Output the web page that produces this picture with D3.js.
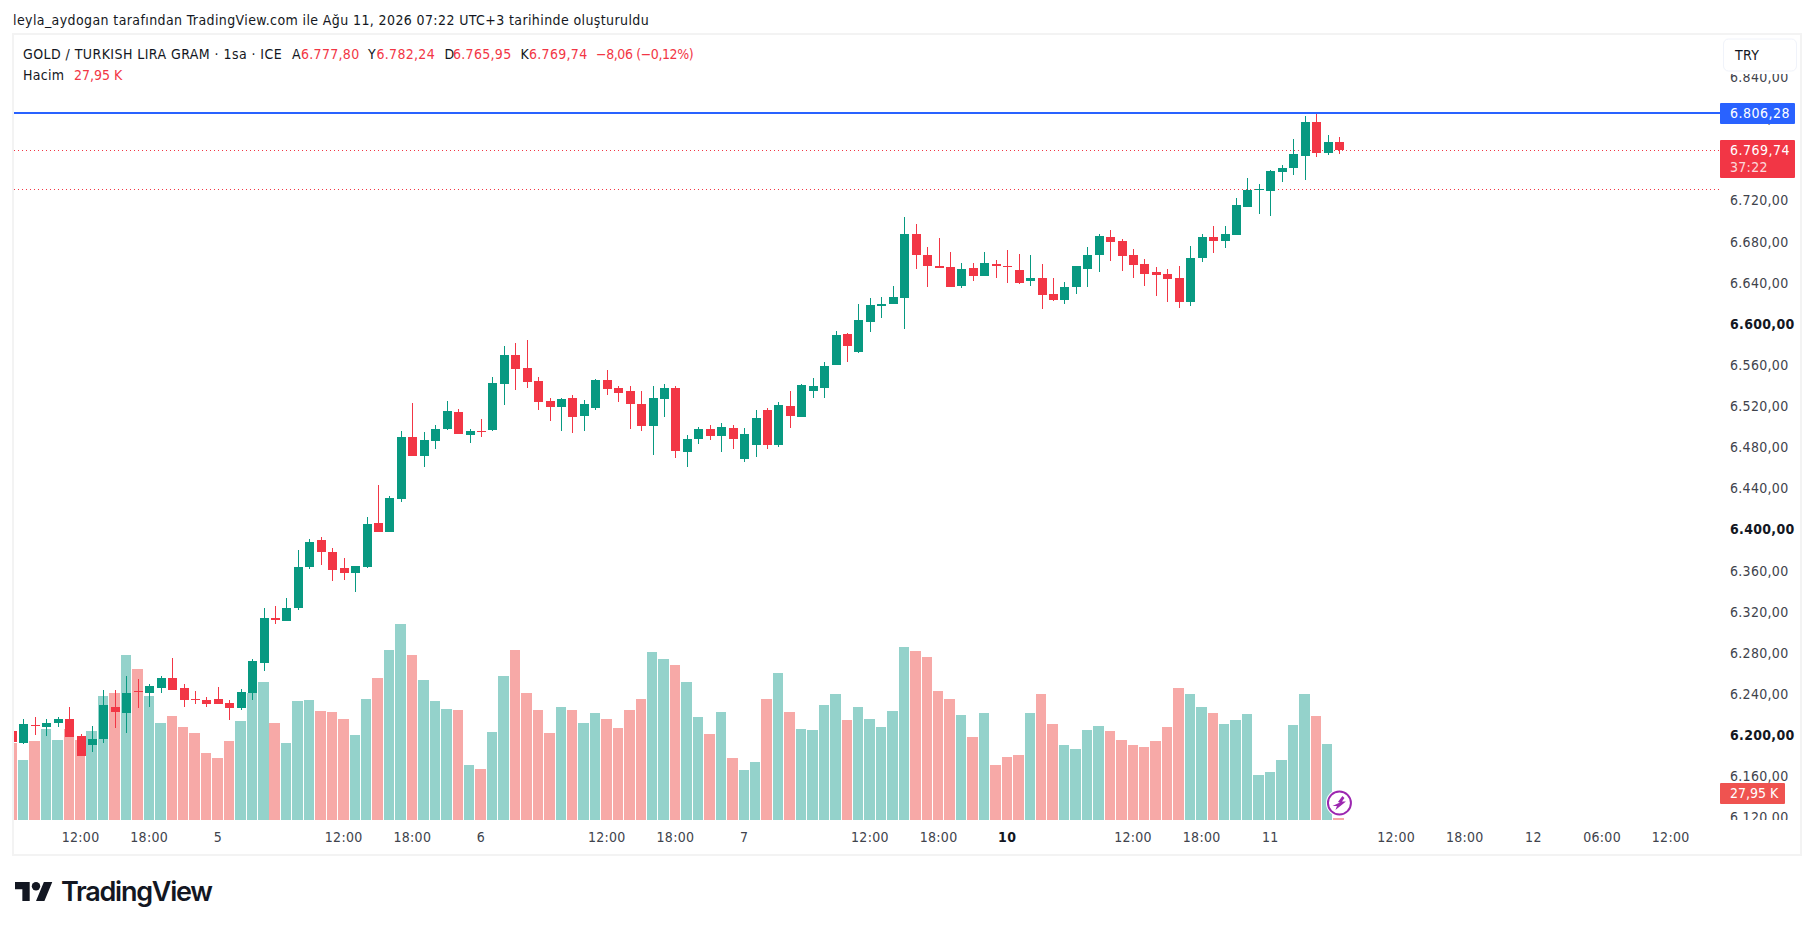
<!DOCTYPE html>
<html>
<head>
<meta charset="utf-8">
<script src="https://cdnjs.cloudflare.com/ajax/libs/d3/7.8.5/d3.min.js"></script>
<style>
html, body { margin: 0; padding: 0; background: #fff; }
svg { display: block; }
text { font-family: "DejaVu Sans Condensed", "DejaVu Sans", sans-serif; font-stretch: condensed; font-size: 14px; fill: #131722; letter-spacing: .3px; }
.tick text { font-size: 14px; }
</style>
</head>
<body>
<div id="wrapper"></div>
<script>
// candles, hourly
var opens = [6205,6193,6211,6209,6213,6217,6200,6191,6197,6228,
  6222,6244,6242,6247,6256,6247,6236,6235,6236,6232,
  6227,6242,6271,6315,6312,6325,6364,6391,6379,6363,
  6359,6364,6407,6398,6431,6491,6472,6487,6499,6515,
  6493,6497,6498,6542,6571,6558,6545,6526,6520,6529,
  6511,6519,6546,6539,6536,6523,6502,6528,6539,6476,
  6489,6499,6492,6500,6469,6483,6517,6483,6521,6510,
  6536,6539,6561,6591,6574,6603,6618,6620,6626,6688,
  6668,6657,6656,6638,6655,6647,6659,6657,6653,6643,
  6646,6630,6624,6637,6654,6668,6685,6682,6668,6659,
  6651,6649,6646,6622,6665,6685,6682,6687,6715,6731,
  6730,6749,6753,6764,6797,6767,6777.80];
var highs = [6205,6217,6218,6217,6218,6228,6202,6210,6245,6245,
  6258,6255,6251,6258,6276,6251,6244,6238,6248,6235,
  6246,6275,6325,6326,6334,6381,6392,6394,6383,6373,
  6365,6413,6444,6433,6497,6524,6496,6503,6526,6518,
  6499,6508,6549,6579,6582,6585,6549,6529,6529,6532,
  6527,6547,6556,6540,6540,6536,6540,6542,6540,6493,
  6501,6503,6504,6503,6500,6517,6519,6525,6536,6542,
  6548,6564,6594,6592,6620,6626,6627,6638,6705,6698,
  6676,6684,6671,6660,6660,6671,6663,6673,6669,6668,
  6659,6646,6642,6657,6676,6688,6692,6683,6674,6664,
  6656,6654,6657,6677,6688,6696,6696,6723,6743,6737,
  6751,6755,6781,6803,6806,6785,6782.24];
var lows = [6194,6192,6201,6200,6209,6199,6181,6184,6193,6208,
  6203,6227,6228,6242,6245,6228,6231,6228,6231,6216,
  6225,6235,6263,6309,6312,6323,6362,6366,6351,6352,
  6340,6363,6398,6398,6428,6472,6462,6479,6498,6494,
  6485,6491,6497,6522,6537,6539,6517,6506,6497,6495,
  6497,6517,6532,6525,6499,6497,6473,6510,6470,6462,
  6484,6488,6476,6479,6467,6471,6479,6481,6500,6510,
  6529,6529,6561,6564,6573,6593,6607,6620,6596,6654,
  6637,6655,6637,6636,6643,6647,6646,6641,6640,6638,
  6615,6623,6620,6630,6637,6651,6662,6652,6646,6638,
  6628,6622,6616,6618,6661,6670,6675,6687,6715,6708,
  6706,6739,6746,6741,6763,6765,6765.95];
var closes = [6194,6212,6210,6213,6217,6199,6181,6197,6230,6223,
  6242,6243,6249,6256,6245,6235,6235,6231,6231,6227,
  6243,6273,6315,6313,6325,6364,6389,6379,6361,6359,
  6365,6406,6398,6432,6491,6472,6488,6499,6516,6494,
  6497,6496,6543,6571,6557,6544,6525,6520,6528,6510,
  6523,6546,6538,6534,6523,6502,6529,6539,6477,6489,
  6499,6492,6501,6489,6494,6509,6483,6522,6511,6541,
  6540,6560,6590,6579,6605,6619,6620,6627,6688,6668,
  6657,6655,6637,6654,6647,6660,6657,6656,6641,6646,
  6629,6624,6637,6657,6668,6686,6681,6667,6658,6649,
  6648,6645,6622,6665,6685,6682,6688,6717,6731,6732,
  6750,6753,6766,6797,6767,6778,6769.74];
// volume in thousands
var volumes = [924,720,948,1092,960,1092,960,1068,1488,1524,
  1980,1812,1488,1164,1248,1116,1044,804,744,948,
  1188,1524,1656,1164,924,1428,1440,1308,1296,1212,
  1020,1452,1704,2040,2352,1980,1680,1428,1332,1320,
  660,612,1056,1728,2040,1524,1320,1044,1356,1320,
  1164,1284,1212,1104,1320,1452,2016,1932,1860,1656,
  1236,1032,1296,744,600,696,1452,1764,1296,1092,
  1080,1380,1512,1200,1356,1212,1116,1308,2076,2028,
  1956,1548,1452,1260,996,1284,660,756,780,1284,
  1512,1152,900,852,1080,1128,1068,960,900,876,
  948,1116,1584,1512,1356,1284,1152,1200,1272,540,
  576,720,1140,1512,1248,912,27.95];

// 6.760 sits fully behind the last price label in the reference, so it is left out
var priceTicks = [6120,6160,6200,6240,6280,6320,6360,6400,6440,6480,6520,6560,6600,6640,6680,6720,6800,6840];
var boldPrices = [6200,6400,6600];
var timeTickBars = [6,12,18,29,35,41,52,58,64,75,81,87,98,104,110,121,127,133,139,145];
var timeTickLabels = ["12:00","18:00","5","12:00","18:00","6","12:00","18:00","7","12:00","18:00","10","12:00","18:00","11","12:00","18:00","12","06:00","12:00"];

var alertPrice = 6806.28, lastPrice = 6769.74, prevLine = 6731.8;

var legendTop = ["GOLD / TURKISH LIRA GRAM · 1sa · ICE","A","6.777,80","Y","6.782,24","D","6.765,95","K","6.769,74","−8,06 (−0,12%)"];
var legendTopX = [23,292,301,368,376.5,444.5,453,520.5,529,596];

var up = "#089981", down = "#f23645", upVol = "#94d2cb", downVol = "#f7a9a7";

var svg = d3.select("#wrapper").append("svg").attr("width", 1814).attr("height", 930);

var x = d3.scaleLinear().domain([0, 116]).range([12.4, 12.4 + 116 * 11.44]);
var y = d3.scaleLinear().domain([6200, 6840]).range([736, 736 - 640 * 1.028]);
var yVol = d3.scaleLinear().domain([0, 2400]).range([820, 620]);
var step = x(1) - x(0);

var defs = svg.append("defs");
defs.append("clipPath").attr("id", "pane").append("rect").attr("x", 14).attr("y", 35).attr("width", 1706).attr("height", 785);
defs.append("clipPath").attr("id", "scale").append("rect").attr("x", 1720).attr("y", 35).attr("width", 80).attr("height", 785);

svg.append("text").attr("x", 13).attr("y", 20).attr("dy", ".35em").attr("textLength", 636)
   .text("leyla_aydogan tarafından TradingView.com ile Ağu 11, 2026 07:22 UTC+3 tarihinde oluşturuldu");

// frame
svg.append("rect").attr("x", 13).attr("y", 34).attr("width", 1788).attr("height", 821)
   .attr("fill", "#fff").attr("stroke", "#f3f3f3").attr("stroke-width", 2);

var pane = svg.append("g").attr("clip-path", "url(#pane)");
var bars = d3.range(opens.length);

// volume first, candles sit on top of it
pane.selectAll("rect.vol").data(bars).enter().append("rect")
    .attr("class", "vol")
    .attr("x", function(i) { return Math.round(x(i) - 0.3 - step / 2); })
    .attr("width", function(i) {
        return Math.round(x(i) - 0.3 + step / 2) - 1 - Math.round(x(i) - 0.3 - step / 2);
    })
    .attr("y", function(i) { return Math.round(yVol(volumes[i])); })
    .attr("height", function(i) { return 820 - Math.round(yVol(volumes[i])); })
    .attr("fill", function(i) { return closes[i] >= opens[i] ? upVol : downVol; });

function dotted(v) {
    var py = Math.floor(y(v)) + 0.5;
    pane.append("line").attr("x1", 14).attr("x2", 1720).attr("y1", py).attr("y2", py)
        .attr("stroke", down).attr("stroke-width", 1).attr("stroke-dasharray", "1 3");
}
dotted(lastPrice);
dotted(prevLine);

pane.selectAll("rect.wick").data(bars).enter().append("rect")
    .attr("class", "wick")
    .attr("x", function(i) { return Math.round(x(i) - 4.5) + 4; })
    .attr("width", 1)
    .attr("y", function(i) { return Math.round(y(highs[i])); })
    .attr("height", function(i) { return Math.round(y(lows[i])) - Math.round(y(highs[i])); })
    .attr("fill", function(i) { return closes[i] >= opens[i] ? up : down; });

pane.selectAll("rect.body").data(bars).enter().append("rect")
    .attr("class", "body")
    .attr("x", function(i) { return Math.round(x(i) - 4.5); })
    .attr("width", 9)
    .attr("y", function(i) { return Math.round(y(Math.max(opens[i], closes[i]))); })
    .attr("height", function(i) {
        return Math.max(1, Math.round(y(Math.min(opens[i], closes[i]))) - Math.round(y(Math.max(opens[i], closes[i]))));
    })
    .attr("fill", function(i) { return closes[i] >= opens[i] ? up : down; });

pane.append("rect").attr("x", 14).attr("width", 1706).attr("y", Math.floor(y(alertPrice))).attr("height", 2).attr("fill", "#2962ff");

// axes
var tr = d3.formatLocale({decimal: ",", thousands: ".", grouping: [3], currency: ["", ""]});
var priceAxis = d3.axisRight(y).tickValues(priceTicks).tickSize(0).tickPadding(0).tickFormat(tr.format(",.2f"));
var gp = svg.append("g").attr("clip-path", "url(#scale)").append("g").attr("transform", "translate(1730,-1)").call(priceAxis);
gp.select(".domain").remove();
gp.selectAll("text").attr("fill", null)
  .style("font-weight", function(d) { return boldPrices.indexOf(d) >= 0 ? "bold" : null; })
  .style("fill", function(d) { return boldPrices.indexOf(d) >= 0 ? "#131722" : "#40434c"; });

var timeAxis = d3.axisBottom(x).tickValues(timeTickBars).tickSize(0).tickPadding(0)
    .tickFormat(function(d, i) { return timeTickLabels[i]; });
var gt = svg.append("g").attr("transform", "translate(-1,832)").call(timeAxis);
gt.select(".domain").remove();
gt.selectAll("text").attr("fill", null).attr("dy", ".71em")
  .style("font-weight", function(d, i) { return timeTickLabels[i] === "10" ? "bold" : null; })
  .style("fill", function(d, i) { return timeTickLabels[i] === "10" ? "#131722" : "#40434c"; });

// price scale labels
svg.append("rect").attr("x", 1720).attr("y", 103).attr("width", 75).attr("height", 21).attr("rx", 1).attr("fill", "#2962ff");
svg.append("text").attr("x", 1730).attr("y", 113).attr("dy", ".35em").style("fill", "#fff").style("letter-spacing", ".5px").text(tr.format(",.2f")(alertPrice));
svg.append("rect").attr("x", 1720).attr("y", 140).attr("width", 75).attr("height", 38).attr("rx", 1).attr("fill", down);
svg.append("text").attr("x", 1730).attr("y", 150).attr("dy", ".35em").style("fill", "#fff").style("letter-spacing", ".5px").text(tr.format(",.2f")(lastPrice));
svg.append("text").attr("x", 1730).attr("y", 167).attr("dy", ".35em").style("fill", "#fff").style("opacity", 0.8).text("37:22");
svg.append("rect").attr("x", 1720).attr("y", 783).attr("width", 65).attr("height", 21).attr("rx", 1).attr("fill", "#ef5350");
svg.append("text").attr("x", 1730).attr("y", 793).attr("dy", ".35em").style("fill", "#fff").style("letter-spacing", 0).text("27,95 K");

// currency button covers the top of the 6.840 label
svg.append("rect").attr("x", 1720).attr("y", 35).attr("width", 80).attr("height", 39).attr("fill", "#fff");
svg.append("rect").attr("x", 1723.5).attr("y", 39).attr("width", 73).attr("height", 32).attr("rx", 5)
   .attr("fill", "#fff").attr("stroke", "#f0f3fa");
svg.append("text").attr("x", 1735).attr("y", 55).attr("dy", ".35em").text("TRY");

// legend
svg.selectAll("text.leg").data(legendTop).enter().append("text")
   .attr("class", "leg")
   .attr("x", function(d, i) { return legendTopX[i]; })
   .attr("y", 54).attr("dy", ".35em")
   .style("fill", function(d, i) { return i === 0 || (i % 2 === 1 && i < 8) ? "#131722" : down; })
   .attr("textLength", function(d, i) { return i === 0 ? 259 : i === 9 ? 98 : null; })
   .text(function(d) { return d; });
svg.append("text").attr("x", 23).attr("y", 75).attr("dy", ".35em").text("Hacim");
svg.append("text").attr("x", 74).attr("y", 75).attr("dy", ".35em").style("fill", down).style("letter-spacing", 0).text("27,95 K");

// lightning badge
var badge = svg.append("g").attr("transform", "translate(" + x(116) + ",803)");
badge.append("circle").attr("r", 13.5).attr("fill", "#fff");
badge.append("circle").attr("r", 11.5).attr("fill", "#fff").attr("stroke", "#9c27b0").attr("stroke-width", 2);
badge.append("path").attr("d", "M3 -7 L-1.5 -1 L0.5 -0.5 L-7 3 L-2.5 3 L-4 7 L6.5 -1.5 L2.5 -1.5 L5 -5 Z").attr("fill", "#9c27b0");

// logo
var logo = svg.append("g").attr("transform", "translate(15,877.8) scale(1.05)").attr("fill", "#131722");
logo.append("path").attr("d", "M14 22H7V11H0V4h14v18zM28 22h-8l7.5-18h8L28 22z");
logo.append("circle").attr("cx", 20).attr("cy", 8).attr("r", 4);
svg.append("text").attr("x", 61).attr("y", 901)
   .style("font-family", "Inter, sans-serif").style("font-stretch", "normal").style("font-size", "27px").style("font-weight", 600).style("letter-spacing", 0)
   .attr("textLength", 152).text("TradingView");
</script>
</body>
</html>
